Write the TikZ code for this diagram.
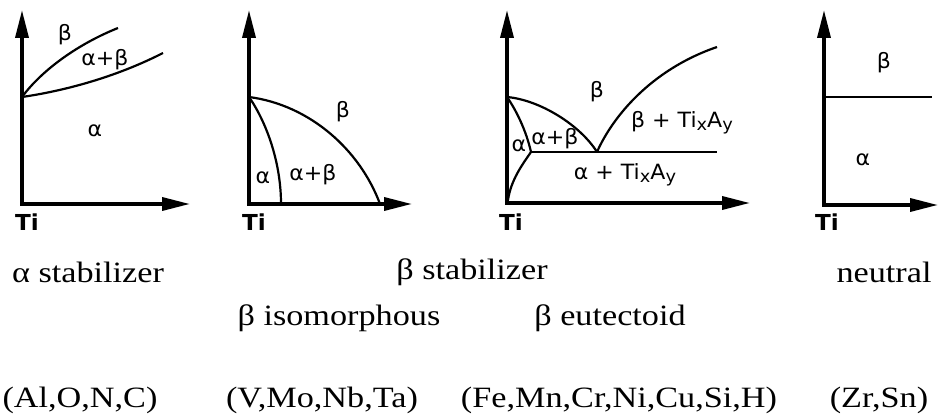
\documentclass[tikz,border=0pt]{standalone}
\usepackage{fontspec}
\setmainfont{Liberation Serif}
\newfontfamily\capfont[FakeStretch=1.16]{Liberation Serif}
\newfontfamily\labfont[FakeStretch=1.05]{DejaVu Sans}
\usetikzlibrary{arrows.meta}
\newcommand\lsub[1]{\raisebox{-3pt}{\fontsize{17}{17}\selectfont #1}}
\begin{document}
\begin{tikzpicture}[x=1pt,y=-1pt,
  axis/.style={line width=3.5pt,{Triangle[length=28pt,width=13pt]}-{Triangle[length=28pt,width=13pt]}},
  curve/.style={line width=2.2pt},
  lab/.style={font=\labfont\fontsize{21}{21}\selectfont, inner sep=0pt},
  tilab/.style={font=\labfont\bfseries\fontsize{22}{22}\selectfont, inner sep=0pt},
  captext/.style={font=\capfont\fontsize{29.5}{29.5}\selectfont, inner sep=0pt}]
\useasboundingbox (0,0) rectangle (940,414);

% ---------- diagram 1: alpha stabilizer
\coordinate (o1) at (22,204);
\coordinate (t1) at (22,10);
\coordinate (r1) at (190,204);
\draw[axis] (t1) -- (o1) -- (r1);
\coordinate (p1) at (22,97);
\coordinate (u1) at (118,28);
\coordinate (l1) at (163,53);
\draw[curve] (p1) .. controls (42,70) and (78,44) .. (u1);
\draw[curve] (p1) .. controls (70,90) and (120,75) .. (l1);
\node[lab] (b1) at (65,35) {β};
\node[lab] (ab1) at (105,60) {α+β};
\node[lab] (a1) at (95,131) {α};
\node[tilab] (ti1) at (27,222) {Ti};

% ---------- diagram 2: beta isomorphous
\coordinate (o2) at (249,204);
\coordinate (t2) at (249,10);
\coordinate (r2) at (412,204);
\draw[axis] (t2) -- (o2) -- (r2);
\coordinate (p2) at (249,97);
\coordinate (e2) at (380,204);
\coordinate (i2) at (281,204);
\draw[curve] (p2) .. controls (310,105) and (360,150) .. (e2);
\draw[curve] (p2) .. controls (265,120) and (281,160) .. (i2);
\node[lab] (b2) at (343,112) {β};
\node[lab] (a2) at (263,178) {α};
\node[lab] (ab2) at (313,175) {α+β};
\node[tilab] (ti2) at (254,222) {Ti};

% ---------- diagram 3: beta eutectoid
\coordinate (o3) at (507,203);
\coordinate (t3) at (507,10);
\coordinate (r3) at (750,203);
\draw[axis] (t3) -- (o3) -- (r3);
\coordinate (p3) at (507,97);
\coordinate (e3) at (597,152);
\coordinate (a3) at (531,152);
\coordinate (le3) at (717,152);
\coordinate (re3) at (717,47);
\coordinate (bo3) at (508,200);
\draw[curve] (p3) .. controls (540,100) and (580,125) .. (e3);
\draw[curve] (e3) .. controls (612,118) and (650,70) .. (re3);
\draw[curve] (a3) -- (le3);
\draw[curve] (p3) .. controls (516,110) and (526,130) .. (a3);
\draw[curve] (a3) .. controls (522,165) and (511,180) .. (bo3);
\node[lab] (b3) at (597,92) {β};
\node[lab] (ab3) at (555,139) {α+β};
\node[lab] (al3) at (519,146) {α};
\node[lab] (bt3) at (682,123) {β + Ti\lsub{x}A\lsub{y}};
\node[lab] (at3) at (625,175) {α + Ti\lsub{x}A\lsub{y}};
\node[tilab] (ti3) at (511,222) {Ti};

% ---------- diagram 4: neutral
\coordinate (o4) at (824,205);
\coordinate (t4) at (824,10);
\coordinate (r4) at (938,205);
\draw[axis] (t4) -- (o4) -- (r4);
\coordinate (h4) at (824,97);
\coordinate (he4) at (932,97);
\draw[curve] (h4) -- (he4);
\node[lab] (b4) at (884,63) {β};
\node[lab] (a4) at (863,160) {α};
\node[tilab] (ti4) at (827,222) {Ti};

% ---------- captions
\node[captext] (c1) at (88,272) {α stabilizer};
\node[captext] (c2) at (472,272) {β stabilizer};
\node[captext] (c3) at (884,272) {neutral};
\node[captext] (c4) at (339,318) {β isomorphous};
\node[captext] (c5) at (610,318) {β eutectoid};
\node[captext] (e1) at (80,400) {(Al,O,N,C)};
\node[captext] (e2n) at (322,400) {(V,Mo,Nb,Ta)};
\node[captext] (e3n) at (619,400) {(Fe,Mn,Cr,Ni,Cu,Si,H)};
\node[captext] (e4) at (879,400) {(Zr,Sn)};
\end{tikzpicture}
\end{document}
